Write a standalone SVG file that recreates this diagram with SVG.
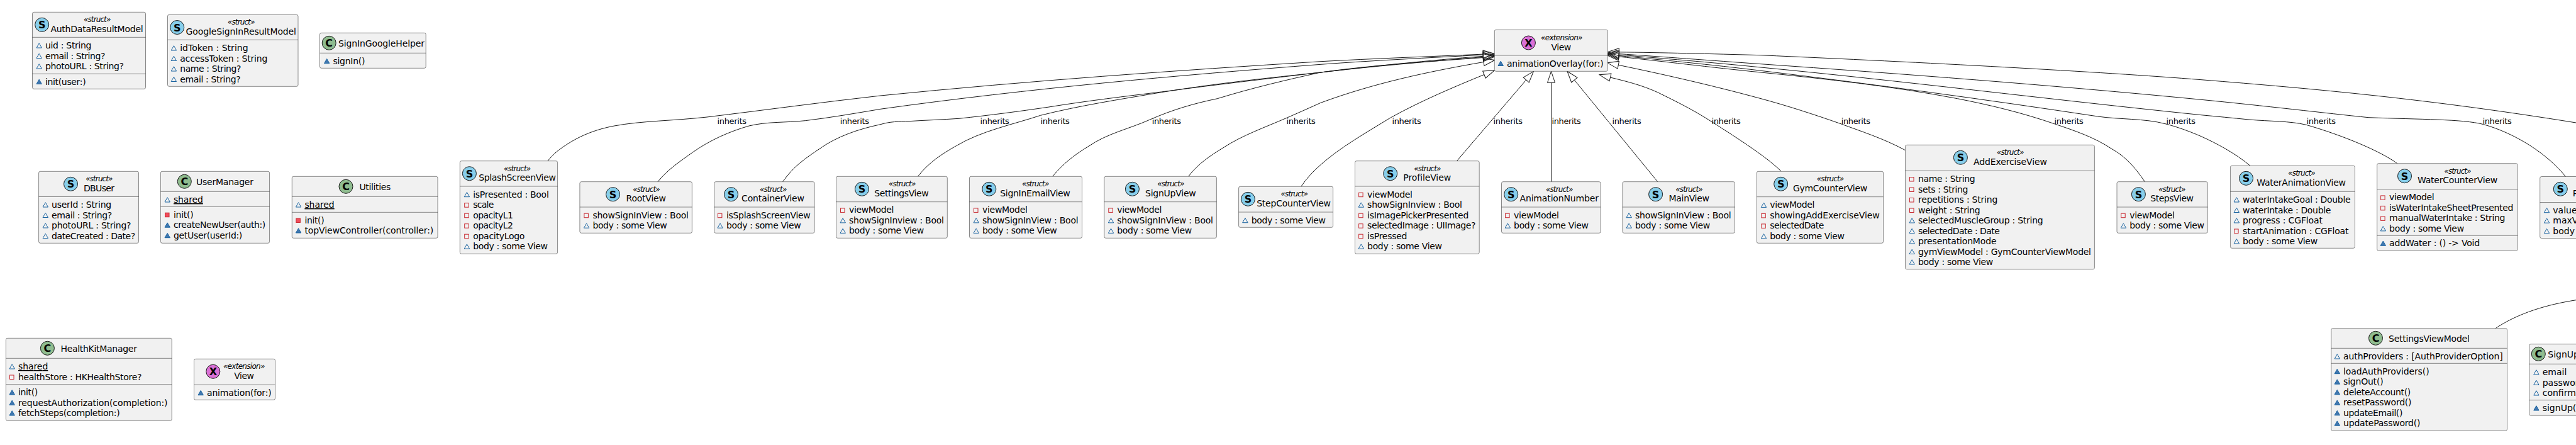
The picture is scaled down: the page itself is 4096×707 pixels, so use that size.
<svg xmlns="http://www.w3.org/2000/svg" width="4096" height="707" viewBox="0 0 4096 707">
<style>
text{font-family:"DejaVu Sans",sans-serif;fill:#000}
.t{font-size:14px}
.u{font-size:14px;text-decoration:underline}
.st{font-size:12px;font-style:italic}
.l{font-size:13px}
.sp{font-size:16px;font-weight:bold;text-anchor:middle}
.b{fill:#F1F1F1;stroke:#181818;stroke-width:.5}
.d{stroke:#181818;stroke-width:.5}
.S{fill:#87CEEB;stroke:#181818}
.C{fill:#8FBC8F;stroke:#181818}
.X{fill:#DA70D6;stroke:#181818}
.e{fill:none;stroke:#181818;stroke-width:1;marker-end:url(#inh)}
.o{fill:none;stroke:#181818;stroke-width:1}
</style>
<defs>
<marker id="inh" markerUnits="userSpaceOnUse" markerWidth="20" markerHeight="14" viewBox="-1 -1 20 14" refX="0" refY="6" orient="auto"><path d="M0,0 L18,6 L0,12 Z" fill="none" stroke="#181818"/></marker>
<path id="f" d="M-14,-1 L-9.8,-8.3 L-5.6,-1 Z" fill="none" stroke="#1963A0"/>
<path id="m" d="M-14,-1 L-9.8,-8.3 L-5.6,-1 Z" fill="#4177AF" stroke="#1963A0"/>
<rect id="r" x="-13.5" y="-7.5" width="6.5" height="6.5" fill="none" stroke="#C82930"/>
<rect id="q" x="-13.5" y="-7.5" width="6.5" height="6.5" fill="#F24D5C" stroke="#C82930"/>
</defs>
<g id="connectors">
<path class="e" d="M871,255.7 C881,243 890,237 900.9,229.7 C925,214 950,205 976.8,200 C1020,192 1070,192 1124,186 C1215,175 1310,162 1400,152 C1640,128 1870,112 2100,97.7 C2185,93 2270,90 2358.3,86.1"/>
<path class="e" d="M1046,288.7 C1063,268 1082,256 1101.8,241.7 C1130,222 1160,209 1191,200 C1220,193 1250,195 1280.4,191.7 C1320,187 1360,180 1400,173.3 C1640,140 1870,120 2100,102.3 C2185,96 2270,92 2358.3,87.1"/>
<path class="e" d="M1244.6,288.7 C1262,264 1280,252 1302.7,236.7 C1330,217 1365,205 1400,197.7 C1415,193 1430,193 1445,192.7 C1470,191 1500,190 1525,188.3 C1575,183 1620,177 1667.9,170 C1730,160 1790,153 1846.4,146 C1930,135 2015,125 2100,115 C2185,105 2270,96 2358.4,89.3"/>
<path class="e" d="M1459.4,280.3 C1477,258 1497,245 1520.5,231.7 C1560,208 1610,198 1654.5,183.3 C1715,168 1780,158 1846.4,146.7 C1930,133 2015,124 2100,115 C2185,105 2270,98 2358.5,90.5"/>
<path class="e" d="M1673.7,280.3 C1690,260 1710,245 1730,233 C1760,212 1795,205 1828.6,190 C1865,174 1900,164 1935.7,156.7 C1990,140 2045,127 2100,115 C2185,103 2270,98 2358.5,91.5"/>
<path class="e" d="M1889.7,280.3 C1905,260 1925,247 1944.6,235 C1975,215 2010,203 2047.3,186.7 C2065,179 2083,171 2100,163.3 C2185,132 2270,114 2359,98.5"/>
<path class="e" d="M2068.8,296.3 C2078,283 2088,272 2100,261.7 C2130,235 2170,212 2211.6,186.7 C2260,160 2310,139 2359.9,118.5"/>
<path class="e" d="M2316.5,255.7 L2426.7,127"/>
<path class="e" d="M2466.5,288.7 L2466.5,131.3"/>
<path class="e" d="M2635.7,288.7 L2503.4,127.2"/>
<path class="e" d="M2832.1,272.3 C2815,254 2770,224 2721,193 C2695,176 2665,161 2635.7,146.7 C2610,135 2585,129 2560.5,123"/>
<path class="e" d="M3029.5,238.7 C2995,220 2960,209 2927,196.7 C2885,182 2842,168 2800,156.7 C2720,135 2640,117 2573.3,103.3"/>
<path class="e" d="M3410.3,288.7 C3393,263 3378,248 3358,236.7 C3330,218 3300,208 3266.5,196.7 C3215,179 3165,167 3112.5,156.7 C3010,137 2900,125 2800,115 C2720,107 2640,97 2574,90"/>
<path class="e" d="M3577.9,263.3 C3555,244 3525,228 3500,216.7 C3480,208 3460,201 3442.9,196.7 C3410,188 3370,190 3335.7,185 C3150,157 2980,134 2800,112.3 C2720,102.5 2640,95 2574.1,88.5"/>
<path class="e" d="M3811.7,259.7 C3785,240 3725,215 3667,198.3 C3640,192 3610,193 3576,190 C3550,187.5 3525,185 3500,182.7 C3250,157 3020,128 2800,107 C2720,99 2640,92.5 2574.2,87"/>
<path class="e" d="M4079.6,280.7 C4050,244 4000,212 3948.5,197.5 C3915,189 3850,190 3766,186.7 C3700,180 3600,168 3500,158.3 C3260,135 3020,117 2800,101.7 C2720,96 2640,90 2574.2,85.5"/>
<path class="e" d="M4096,195 C3860,157 3680,141 3500,126.7 C3340,114 3060,99 2800,87.7 C2720,85.5 2640,83.5 2574.3,82.8"/>
<path class="o" d="M3968,521.7 C4005,497 4050,484 4096,476.7"/>
<text class="l" textLength="46.4" x="1140.6" y="197.3">inherits</text>
<text class="l" textLength="46.4" x="1335.7" y="197.3">inherits</text>
<text class="l" textLength="46.4" x="1558.5" y="197.3">inherits</text>
<text class="l" textLength="46.4" x="1654.5" y="197.3">inherits</text>
<text class="l" textLength="46.4" x="1831.7" y="197.3">inherits</text>
<text class="l" textLength="46.4" x="2045.5" y="197.3">inherits</text>
<text class="l" textLength="46.4" x="2213.4" y="197.3">inherits</text>
<text class="l" textLength="46.4" x="2374.6" y="197.3">inherits</text>
<text class="l" textLength="46.4" x="2467.4" y="197.3">inherits</text>
<text class="l" textLength="46.4" x="2563.4" y="197.3">inherits</text>
<text class="l" textLength="46.4" x="2721.4" y="197.3">inherits</text>
<text class="l" textLength="46.4" x="2927.7" y="197.3">inherits</text>
<text class="l" textLength="46.4" x="3266.5" y="197.3">inherits</text>
<text class="l" textLength="46.4" x="3444.6" y="197.3">inherits</text>
<text class="l" textLength="46.4" x="3667.6" y="197.3">inherits</text>
<text class="l" textLength="46.4" x="3947.4" y="197.3">inherits</text>
</g>
<g id="AuthDataResultModel">
<rect class="b" x="51.5" y="19.3" width="180" height="122" rx="2.5"/>
<line class="d" x1="51.5" x2="231.5" y1="59.3" y2="59.3"/><line class="d" x1="51.5" x2="231.5" y1="117.3" y2="117.3"/>
<circle class="S" cx="66.7" cy="39.3" r="11"/><text class="sp" x="66.7" y="45.3">S</text>
<text class="st" textLength="43.3" x="133" y="35.3">«struct»</text><text class="t" textLength="147.3" x="80.4" y="51">AuthDataResultModel</text>
<use href="#f" x="72" y="77"/><text class="t" textLength="73.5" x="72" y="77">uid : String</text>
<use href="#f" x="72" y="93.5"/><text class="t" textLength="95.4" x="72" y="93.5">email : String?</text>
<use href="#f" x="72" y="110"/><text class="t" textLength="124.9" x="72" y="110">photoURL : String?</text>
<use href="#m" x="72" y="134.5"/><text class="t" textLength="64.6" x="72" y="134.5">init(user:)</text>
</g>
<g id="GoogleSignInResultModel">
<rect class="b" x="266.5" y="23.3" width="207.5" height="114" rx="2.5"/>
<line class="d" x1="266.5" x2="474" y1="63.3" y2="63.3"/>
<circle class="S" cx="281.7" cy="43.5" r="11"/><text class="sp" x="281.7" y="49.5">S</text>
<text class="st" textLength="43.3" x="362" y="39.3">«struct»</text><text class="t" textLength="175.5" x="295.5" y="55">GoogleSignInResultModel</text>
<use href="#f" x="286.2" y="81"/><text class="t" textLength="108.4" x="286.2" y="81">idToken : String</text>
<use href="#f" x="286.2" y="97.5"/><text class="t" textLength="139.2" x="286.2" y="97.5">accessToken : String</text>
<use href="#f" x="286.2" y="114"/><text class="t" textLength="97.3" x="286.2" y="114">name : String?</text>
<use href="#f" x="286.2" y="130.5"/><text class="t" textLength="96.4" x="286.2" y="130.5">email : String?</text>
</g>
<g id="SignInGoogleHelper">
<rect class="b" x="508.5" y="52.3" width="168.7" height="56" rx="2.5"/>
<line class="d" x1="508.5" x2="677.2" y1="84.3" y2="84.3"/>
<circle class="C" cx="523.2" cy="68.3" r="11"/><text class="sp" x="523.2" y="74.3">C</text>
<text class="t" textLength="137" x="538" y="74">SignInGoogleHelper</text>
<use href="#m" x="529.5" y="101.7"/><text class="t" textLength="50.9" x="529.5" y="101.7">signIn()</text>
</g>
<g id="DBUser">
<rect class="b" x="61.6" y="272.3" width="158.9" height="114" rx="2.5"/>
<line class="d" x1="61.6" x2="220.5" y1="312.5" y2="312.5"/>
<circle class="S" cx="112.5" cy="292.3" r="11"/><text class="sp" x="112.5" y="298.3">S</text>
<text class="st" textLength="43.3" x="136.2" y="288.3">«struct»</text><text class="t" textLength="49" x="133" y="304">DBUser</text>
<use href="#f" x="82.1" y="330"/><text class="t" textLength="95.1" x="82.1" y="330">userId : String</text>
<use href="#f" x="82.1" y="346.5"/><text class="t" textLength="96" x="82.1" y="346.5">email : String?</text>
<use href="#f" x="82.1" y="363"/><text class="t" textLength="126.4" x="82.1" y="363">photoURL : String?</text>
<use href="#f" x="82.1" y="379.5"/><text class="t" textLength="133.1" x="82.1" y="379.5">dateCreated : Date?</text>
</g>
<g id="UserManager">
<rect class="b" x="255.4" y="272.3" width="173.2" height="114" rx="2.5"/>
<line class="d" x1="255.4" x2="428.6" y1="304.3" y2="304.3"/><line class="d" x1="255.4" x2="428.6" y1="328.3" y2="328.3"/>
<circle class="C" cx="293.3" cy="288.3" r="11"/><text class="sp" x="293.3" y="294.3">C</text>
<text class="t" textLength="91" x="312" y="294">UserManager</text>
<use href="#f" x="276" y="322"/><text class="u" textLength="46.8" x="276" y="322">shared</text>
<use href="#q" x="276" y="345.7"/><text class="t" textLength="31.6" x="276" y="345.7">init()</text>
<use href="#m" x="276" y="362.2"/><text class="t" textLength="146.3" x="276" y="362.2">createNewUser(auth:)</text>
<use href="#m" x="276" y="378.7"/><text class="t" textLength="109.3" x="276" y="378.7">getUser(userId:)</text>
</g>
<g id="Utilities">
<rect class="b" x="464.3" y="280.3" width="231.7" height="98" rx="2.5"/>
<line class="d" x1="464.3" x2="696" y1="312.3" y2="312.3"/><line class="d" x1="464.3" x2="696" y1="337.3" y2="337.3"/>
<circle class="C" cx="550" cy="296.3" r="11"/><text class="sp" x="550" y="302.3">C</text>
<text class="t" textLength="50" x="571.4" y="302">Utilities</text>
<use href="#f" x="484.4" y="330"/><text class="u" textLength="47.3" x="484.4" y="330">shared</text>
<use href="#q" x="484.4" y="354.5"/><text class="t" textLength="31.2" x="484.4" y="354.5">init()</text>
<use href="#m" x="484.4" y="371"/><text class="t" textLength="204.9" x="484.4" y="371">topViewController(controller:)</text>
</g>
<g id="HealthKitManager">
<rect class="b" x="9.4" y="537.3" width="263.8" height="131" rx="2.5"/>
<line class="d" x1="9.4" x2="273.2" y1="569.3" y2="569.3"/><line class="d" x1="9.4" x2="273.2" y1="610.7" y2="610.7"/>
<circle class="C" cx="75.4" cy="553.3" r="11"/><text class="sp" x="75.4" y="559.3">C</text>
<text class="t" textLength="121.5" x="96.4" y="559">HealthKitManager</text>
<use href="#f" x="29" y="587"/><text class="u" textLength="47.3" x="29" y="587">shared</text>
<use href="#r" x="29" y="603.5"/><text class="t" textLength="196.4" x="29" y="603.5">healthStore : HKHealthStore?</text>
<use href="#m" x="29" y="628"/><text class="t" textLength="31.3" x="29" y="628">init()</text>
<use href="#m" x="29" y="644.5"/><text class="t" textLength="237.5" x="29" y="644.5">requestAuthorization(completion:)</text>
<use href="#m" x="29" y="661"/><text class="t" textLength="161.6" x="29" y="661">fetchSteps(completion:)</text>
</g>
<g id="ViewExtensionAnimation">
<rect class="b" x="308.5" y="570.3" width="129" height="65" rx="2.5"/>
<line class="d" x1="308.5" x2="437.5" y1="611.3" y2="611.3"/>
<circle class="X" cx="338.8" cy="590.3" r="11"/><text class="sp" x="338.8" y="596.3">X</text>
<text class="st" textLength="66.5" x="354.9" y="586">«extension»</text><text class="t" textLength="31.7" x="372.3" y="602.3">View</text>
<use href="#m" x="329" y="628.7"/><text class="t" textLength="102.7" x="329" y="628.7">animation(for:)</text>
</g>
<g id="SplashScreenView">
<rect class="b" x="731.3" y="255.7" width="155.3" height="147.6" rx="2.5"/>
<line class="d" x1="731.3" x2="886.6" y1="296" y2="296"/>
<circle class="S" cx="746.4" cy="275.7" r="11"/><text class="sp" x="746.4" y="281.7">S</text>
<text class="st" textLength="43.3" x="800.9" y="271.7">«struct»</text><text class="t" textLength="122.7" x="761.2" y="287.4">SplashScreenView</text>
<use href="#f" x="752.2" y="313.7"/><text class="t" textLength="120.6" x="752.2" y="313.7">isPresented : Bool</text>
<use href="#r" x="752.2" y="330.2"/><text class="t" textLength="33.1" x="752.2" y="330.2">scale</text>
<use href="#r" x="752.2" y="346.7"/><text class="t" textLength="63.8" x="752.2" y="346.7">opacityL1</text>
<use href="#r" x="752.2" y="363.2"/><text class="t" textLength="63.8" x="752.2" y="363.2">opacityL2</text>
<use href="#r" x="752.2" y="379.7"/><text class="t" textLength="82.2" x="752.2" y="379.7">opacityLogo</text>
<use href="#f" x="752.2" y="396.2"/><text class="t" textLength="118.8" x="752.2" y="396.2">body : some View</text>
</g>
<g id="RootView">
<rect class="b" x="921.9" y="288.7" width="178.5" height="81.6" rx="2.5"/>
<line class="d" x1="921.9" x2="1100.4" y1="329" y2="329"/>
<circle class="S" cx="974.6" cy="308.7" r="11"/><text class="sp" x="974.6" y="314.7">S</text>
<text class="st" textLength="43.3" x="1006.3" y="304.7">«struct»</text><text class="t" textLength="63.4" x="995.5" y="320.4">RootView</text>
<use href="#r" x="942.4" y="346.7"/><text class="t" textLength="152.6" x="942.4" y="346.7">showSignInView : Bool</text>
<use href="#f" x="942.4" y="363.2"/><text class="t" textLength="118.3" x="942.4" y="363.2">body : some View</text>
</g>
<g id="ContainerView">
<rect class="b" x="1135.7" y="288.7" width="159.4" height="81.6" rx="2.5"/>
<line class="d" x1="1135.7" x2="1295.1" y1="329" y2="329"/>
<circle class="S" cx="1162.5" cy="308.7" r="11"/><text class="sp" x="1162.5" y="314.7">S</text>
<text class="st" textLength="43.3" x="1208" y="304.7">«struct»</text><text class="t" textLength="100" x="1179" y="320.4">ContainerView</text>
<use href="#r" x="1154.9" y="346.7"/><text class="t" textLength="133.9" x="1154.9" y="346.7">isSplashScreenView</text>
<use href="#f" x="1154.9" y="363.2"/><text class="t" textLength="118.8" x="1154.9" y="363.2">body : some View</text>
</g>
<g id="SettingsView">
<rect class="b" x="1329.5" y="280.3" width="176.8" height="98" rx="2.5"/>
<line class="d" x1="1329.5" x2="1506.3" y1="320.7" y2="320.7"/>
<circle class="S" cx="1370.5" cy="300.3" r="11"/><text class="sp" x="1370.5" y="306.3">S</text>
<text class="st" textLength="43.3" x="1413" y="296.3">«struct»</text><text class="t" textLength="86.6" x="1390.2" y="312">SettingsView</text>
<use href="#r" x="1350" y="338.4"/><text class="t" textLength="71.4" x="1350" y="338.4">viewModel</text>
<use href="#f" x="1350" y="354.9"/><text class="t" textLength="150.9" x="1350" y="354.9">showSignInview : Bool</text>
<use href="#f" x="1350" y="371.4"/><text class="t" textLength="119.2" x="1350" y="371.4">body : some View</text>
</g>
<g id="SignInEmailView">
<rect class="b" x="1541.5" y="280.3" width="179" height="98" rx="2.5"/>
<line class="d" x1="1541.5" x2="1720.5" y1="320.7" y2="320.7"/>
<circle class="S" cx="1572.8" cy="300.3" r="11"/><text class="sp" x="1572.8" y="306.3">S</text>
<text class="st" textLength="43.3" x="1625" y="296.3">«struct»</text><text class="t" textLength="111.6" x="1590.2" y="312">SignInEmailView</text>
<use href="#r" x="1562" y="338.4"/><text class="t" textLength="71.9" x="1562" y="338.4">viewModel</text>
<use href="#f" x="1562" y="354.9"/><text class="t" textLength="152.7" x="1562" y="354.9">showSignInView : Bool</text>
<use href="#f" x="1562" y="371.4"/><text class="t" textLength="118.8" x="1562" y="371.4">body : some View</text>
</g>
<g id="SignUpView">
<rect class="b" x="1755.8" y="280.3" width="178.6" height="98" rx="2.5"/>
<line class="d" x1="1755.8" x2="1934.4" y1="320.7" y2="320.7"/>
<circle class="S" cx="1800.4" cy="300.3" r="11"/><text class="sp" x="1800.4" y="306.3">S</text>
<text class="st" textLength="43.3" x="1840.2" y="296.3">«struct»</text><text class="t" textLength="80.8" x="1821" y="312">SignUpView</text>
<use href="#r" x="1776.3" y="338.4"/><text class="t" textLength="71" x="1776.3" y="338.4">viewModel</text>
<use href="#f" x="1776.3" y="354.9"/><text class="t" textLength="152.7" x="1776.3" y="354.9">showSignInView : Bool</text>
<use href="#f" x="1776.3" y="371.4"/><text class="t" textLength="118.8" x="1776.3" y="371.4">body : some View</text>
</g>
<g id="StepCounterView">
<rect class="b" x="1969.6" y="296.3" width="150" height="65" rx="2.5"/>
<line class="d" x1="1969.6" x2="2119.6" y1="337" y2="337"/>
<circle class="S" cx="1984.4" cy="316.3" r="11"/><text class="sp" x="1984.4" y="322.3">S</text>
<text class="st" textLength="43.3" x="2036.6" y="312.3">«struct»</text><text class="t" textLength="117.8" x="1998.2" y="328">StepCounterView</text>
<use href="#f" x="1989.7" y="354.7"/><text class="t" textLength="118.3" x="1989.7" y="354.7">body : some View</text>
</g>
<g id="ViewExtensionOverlay">
<rect class="b" x="2376.3" y="47.3" width="180" height="66" rx="2.5"/>
<line class="d" x1="2376.3" x2="2556.3" y1="88" y2="88"/>
<circle class="X" cx="2430.4" cy="68" r="11"/><text class="sp" x="2430.4" y="74">X</text>
<text class="st" textLength="66.5" x="2450" y="64">«extension»</text><text class="t" textLength="31.7" x="2466.5" y="80.3">View</text>
<use href="#m" x="2396" y="105.5"/><text class="t" textLength="153.6" x="2396" y="105.5">animationOverlay(for:)</text>
</g>
<g id="ProfileView">
<rect class="b" x="2154.5" y="255.7" width="197.7" height="147.6" rx="2.5"/>
<line class="d" x1="2154.5" x2="2352.2" y1="296" y2="296"/>
<circle class="S" cx="2210.7" cy="275.7" r="11"/><text class="sp" x="2210.7" y="281.7">S</text>
<text class="st" textLength="43.3" x="2248.2" y="271.7">«struct»</text><text class="t" textLength="75.8" x="2231.3" y="287.4">ProfileView</text>
<use href="#r" x="2174.1" y="313.7"/><text class="t" textLength="71.9" x="2174.1" y="313.7">viewModel</text>
<use href="#f" x="2174.1" y="330.2"/><text class="t" textLength="150.9" x="2174.1" y="330.2">showSignInview : Bool</text>
<use href="#r" x="2174.1" y="346.7"/><text class="t" textLength="161.2" x="2174.1" y="346.7">isImagePickerPresented</text>
<use href="#r" x="2174.1" y="363.2"/><text class="t" textLength="172.3" x="2174.1" y="363.2">selectedImage : UIImage?</text>
<use href="#r" x="2174.1" y="379.7"/><text class="t" textLength="63.4" x="2174.1" y="379.7">isPressed</text>
<use href="#f" x="2174.1" y="396.2"/><text class="t" textLength="118.8" x="2174.1" y="396.2">body : some View</text>
</g>
<g id="AnimationNumber">
<rect class="b" x="2387.5" y="288.7" width="157.6" height="81.6" rx="2.5"/>
<line class="d" x1="2387.5" x2="2545.1" y1="329" y2="329"/>
<circle class="S" cx="2402.7" cy="308.7" r="11"/><text class="sp" x="2402.7" y="314.7">S</text>
<text class="st" textLength="43.3" x="2458" y="304.7">«struct»</text><text class="t" textLength="125.5" x="2416.5" y="320.4">AnimationNumber</text>
<use href="#r" x="2407.1" y="346.7"/><text class="t" textLength="71.9" x="2407.1" y="346.7">viewModel</text>
<use href="#f" x="2407.1" y="363.2"/><text class="t" textLength="118.8" x="2407.1" y="363.2">body : some View</text>
</g>
<g id="MainView">
<rect class="b" x="2579.9" y="288.7" width="178.6" height="81.6" rx="2.5"/>
<line class="d" x1="2579.9" x2="2758.5" y1="329" y2="329"/>
<circle class="S" cx="2632.6" cy="308.7" r="11"/><text class="sp" x="2632.6" y="314.7">S</text>
<text class="st" textLength="43.3" x="2664.3" y="304.7">«struct»</text><text class="t" textLength="64.3" x="2653.6" y="320.4">MainView</text>
<use href="#f" x="2600" y="346.7"/><text class="t" textLength="152.7" x="2600" y="346.7">showSignInView : Bool</text>
<use href="#f" x="2600" y="363.2"/><text class="t" textLength="119.2" x="2600" y="363.2">body : some View</text>
</g>
<g id="GymCounterView">
<rect class="b" x="2793.3" y="272.3" width="201.3" height="114" rx="2.5"/>
<line class="d" x1="2793.3" x2="2994.6" y1="312.7" y2="312.7"/>
<circle class="S" cx="2831.7" cy="292.3" r="11"/><text class="sp" x="2831.7" y="298.3">S</text>
<text class="st" textLength="43.3" x="2888.8" y="288.3">«struct»</text><text class="t" textLength="118.3" x="2850.9" y="304">GymCounterView</text>
<use href="#f" x="2814.3" y="330.4"/><text class="t" textLength="71" x="2814.3" y="330.4">viewModel</text>
<use href="#r" x="2814.3" y="346.9"/><text class="t" textLength="174.5" x="2814.3" y="346.9">showingAddExerciseView</text>
<use href="#r" x="2814.3" y="363.4"/><text class="t" textLength="86.1" x="2814.3" y="363.4">selectedDate</text>
<use href="#f" x="2814.3" y="379.9"/><text class="t" textLength="118.7" x="2814.3" y="379.9">body : some View</text>
</g>
<g id="AddExerciseView">
<rect class="b" x="3029.5" y="230.3" width="300.9" height="197.5" rx="2.5"/>
<line class="d" x1="3029.5" x2="3330.4" y1="271.3" y2="271.3"/>
<circle class="S" cx="3117.4" cy="250.3" r="11"/><text class="sp" x="3117.4" y="256.3">S</text>
<text class="st" textLength="43.3" x="3175" y="246.3">«struct»</text><text class="t" textLength="116.9" x="3138" y="262">AddExerciseView</text>
<use href="#r" x="3050" y="289"/><text class="t" textLength="90.6" x="3050" y="289">name : String</text>
<use href="#r" x="3050" y="305.5"/><text class="t" textLength="79.5" x="3050" y="305.5">sets : String</text>
<use href="#r" x="3050" y="322"/><text class="t" textLength="126.3" x="3050" y="322">repetitions : String</text>
<use href="#r" x="3050" y="338.5"/><text class="t" textLength="98.7" x="3050" y="338.5">weight : String</text>
<use href="#f" x="3050" y="355"/><text class="t" textLength="198.7" x="3050" y="355">selectedMuscleGroup : String</text>
<use href="#f" x="3050" y="371.5"/><text class="t" textLength="129.9" x="3050" y="371.5">selectedDate : Date</text>
<use href="#f" x="3050" y="388"/><text class="t" textLength="124.6" x="3050" y="388">presentationMode</text>
<use href="#f" x="3050" y="404.5"/><text class="t" textLength="275" x="3050" y="404.5">gymViewModel : GymCounterViewModel</text>
<use href="#f" x="3050" y="421"/><text class="t" textLength="119.2" x="3050" y="421">body : some View</text>
</g>
<g id="StepsView">
<rect class="b" x="3366" y="288.7" width="144.3" height="81.6" rx="2.5"/>
<line class="d" x1="3366" x2="3510.3" y1="329" y2="329"/>
<circle class="S" cx="3400.4" cy="308.7" r="11"/><text class="sp" x="3400.4" y="314.7">S</text>
<text class="st" textLength="43.3" x="3432.1" y="304.7">«struct»</text><text class="t" textLength="68.8" x="3419.2" y="320.4">StepsView</text>
<use href="#r" x="3386.2" y="346.7"/><text class="t" textLength="71.8" x="3386.2" y="346.7">viewModel</text>
<use href="#f" x="3386.2" y="363.2"/><text class="t" textLength="118.8" x="3386.2" y="363.2">body : some View</text>
</g>
<g id="WaterAnimationView">
<rect class="b" x="3546.4" y="263.3" width="198" height="131" rx="2.5"/>
<line class="d" x1="3546.4" x2="3744.4" y1="304.3" y2="304.3"/>
<circle class="S" cx="3571.5" cy="283.3" r="11"/><text class="sp" x="3571.5" y="289.3">S</text>
<text class="st" textLength="43.4" x="3638.3" y="279.3">«struct»</text><text class="t" textLength="141.8" x="3588.2" y="295">WaterAnimationView</text>
<use href="#f" x="3566.1" y="322"/><text class="t" textLength="171.5" x="3566.1" y="322">waterIntakeGoal : Double</text>
<use href="#f" x="3566.1" y="338.5"/><text class="t" textLength="140.3" x="3566.1" y="338.5">waterIntake : Double</text>
<use href="#f" x="3566.1" y="355"/><text class="t" textLength="126.9" x="3566.1" y="355">progress : CGFloat</text>
<use href="#r" x="3566.1" y="371.5"/><text class="t" textLength="168.4" x="3566.1" y="371.5">startAnimation : CGFloat</text>
<use href="#f" x="3566.1" y="388"/><text class="t" textLength="119" x="3566.1" y="388">body : some View</text>
</g>
<g id="WaterCounterView">
<rect class="b" x="3779.7" y="259.7" width="223.5" height="138.6" rx="2.5"/>
<line class="d" x1="3779.7" x2="4003.2" y1="300.7" y2="300.7"/><line class="d" x1="3779.7" x2="4003.2" y1="374.3" y2="374.3"/>
<circle class="S" cx="3823.5" cy="279.7" r="11"/><text class="sp" x="3823.5" y="285.7">S</text>
<text class="st" textLength="43" x="3886.5" y="275.7">«struct»</text><text class="t" textLength="127.3" x="3844" y="291.4">WaterCounterView</text>
<use href="#r" x="3799.1" y="318.4"/><text class="t" textLength="71.5" x="3799.1" y="318.4">viewModel</text>
<use href="#r" x="3799.1" y="334.9"/><text class="t" textLength="197.3" x="3799.1" y="334.9">isWaterIntakeSheetPresented</text>
<use href="#r" x="3799.1" y="351.4"/><text class="t" textLength="184.4" x="3799.1" y="351.4">manualWaterIntake : String</text>
<use href="#f" x="3799.1" y="367.9"/><text class="t" textLength="119" x="3799.1" y="367.9">body : some View</text>
<use href="#m" x="3799.1" y="391.3"/><text class="t" textLength="144.1" x="3799.1" y="391.3">addWater : () -&gt; Void</text>
</g>
<g id="PartialStruct">
<rect class="b" x="4038.7" y="280.5" width="62" height="98" rx="2.5"/>
<line class="d" x1="4038.7" x2="4096" y1="321.5" y2="321.5"/>
<circle class="S" cx="4071.3" cy="300.3" r="11"/><text class="sp" x="4071.3" y="306.3">S</text>
<text class="t" x="4090.7" y="312">P</text>
<use href="#f" x="4059.3" y="338.7"/><text class="t" x="4059.3" y="338.7">value</text>
<use href="#f" x="4059.3" y="355.2"/><text class="t" x="4059.3" y="355.2">maxV</text>
<use href="#f" x="4059.3" y="371.7"/><text class="t" x="4059.3" y="371.7">body</text>
</g>
<g id="SettingsViewModel">
<rect class="b" x="3706.8" y="521.7" width="279.7" height="162.6" rx="2.5"/>
<line class="d" x1="3706.8" x2="3986.5" y1="553.3" y2="553.3"/><line class="d" x1="3706.8" x2="3986.5" y1="577.3" y2="577.3"/>
<circle class="C" cx="3777.5" cy="537.3" r="11"/><text class="sp" x="3777.5" y="543.3">C</text>
<text class="t" textLength="128.8" x="3798" y="543">SettingsViewModel</text>
<use href="#f" x="3726.1" y="571"/><text class="t" textLength="253.6" x="3726.1" y="571">authProviders : [AuthProviderOption]</text>
<use href="#m" x="3726.1" y="594.7"/><text class="t" textLength="136.5" x="3726.1" y="594.7">loadAuthProviders()</text>
<use href="#m" x="3726.1" y="611.2"/><text class="t" textLength="63.5" x="3726.1" y="611.2">signOut()</text>
<use href="#m" x="3726.1" y="627.7"/><text class="t" textLength="107.2" x="3726.1" y="627.7">deleteAccount()</text>
<use href="#m" x="3726.1" y="644.2"/><text class="t" textLength="108.4" x="3726.1" y="644.2">resetPassword()</text>
<use href="#m" x="3726.1" y="660.7"/><text class="t" textLength="94.3" x="3726.1" y="660.7">updateEmail()</text>
<use href="#m" x="3726.1" y="677.2"/><text class="t" textLength="122.4" x="3726.1" y="677.2">updatePassword()</text>
</g>
<g id="SignUpPartial">
<rect class="b" x="4021.7" y="546.7" width="79" height="113.5" rx="2.5"/>
<line class="d" x1="4021.7" x2="4096" y1="578.3" y2="578.3"/><line class="d" x1="4021.7" x2="4096" y1="635.7" y2="635.7"/>
<circle class="C" cx="4036.3" cy="562.3" r="11"/><text class="sp" x="4036.3" y="568.3">C</text>
<text class="t" x="4051.3" y="568">SignUp</text>
<use href="#f" x="4042.7" y="596"/><text class="t" x="4042.7" y="596">email</text>
<use href="#f" x="4042.7" y="612.5"/><text class="t" x="4042.7" y="612.5">passwor</text>
<use href="#f" x="4042.7" y="629"/><text class="t" x="4042.7" y="629">confirm</text>
<use href="#m" x="4042.7" y="653"/><text class="t" x="4042.7" y="653">signUp(</text>
</g>
</svg>
